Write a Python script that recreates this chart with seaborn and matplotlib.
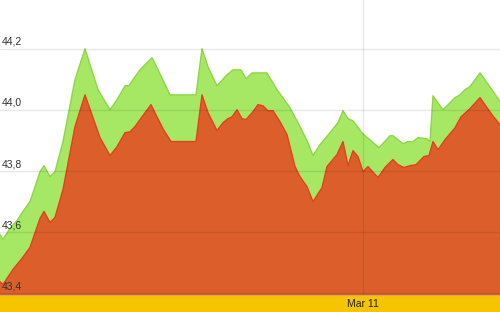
import numpy as np
import pandas as pd
import matplotlib
matplotlib.use("Agg")
import matplotlib.pyplot as plt
import seaborn as sns

# ---- data ----
upper_t = [0, 3, 10, 17, 23, 30, 40, 44, 50, 55, 63, 75, 85, 98, 110, 117, 125, 129, 133, 140,
           152, 160, 170, 196, 202, 208, 217, 227, 233, 241, 246, 252, 267, 277, 290, 300, 308, 313,
           320, 330, 338, 343, 348, 353, 362, 365, 379, 390, 393, 403, 408, 413, 418, 427, 430, 433,
           443, 455, 460, 465, 470, 480, 492, 500]
upper_v = [43.591, 43.575, 43.611, 43.637, 43.667, 43.699, 43.797, 43.817, 43.781, 43.797, 43.896,
           44.099, 44.200, 44.066, 44.000, 44.033, 44.079, 44.079, 44.099, 44.131, 44.171, 44.118,
           44.049, 44.049, 44.200, 44.141, 44.079, 44.115, 44.131, 44.131, 44.102, 44.121, 44.121,
           44.066, 44.007, 43.945, 43.892, 43.850, 43.886, 43.925, 43.958, 43.997, 43.971, 43.964,
           43.925, 43.915, 43.876, 43.915, 43.915, 43.889, 43.896, 43.896, 43.909, 43.905, 43.896,
           44.046, 44.000, 44.040, 44.049, 44.066, 44.076, 44.121, 44.066, 44.027]

lower_t = [0, 3, 13, 22, 30, 40, 44, 50, 55, 63, 75, 85, 100, 110, 117, 125, 130, 135, 142, 151,
           157, 163, 171, 196, 202, 208, 217, 223, 228, 232, 237, 242, 246, 253, 258, 263, 268, 273,
           280, 287, 295, 300, 307, 313, 322, 327, 337, 343, 348, 353, 358, 363, 368, 378, 385, 393,
           398, 404, 410, 416, 424, 429, 433, 438, 445, 455, 461, 470, 480, 492, 500]
lower_v = [43.437, 43.428, 43.477, 43.513, 43.549, 43.644, 43.667, 43.631, 43.647, 43.739, 43.945,
           44.049, 43.909, 43.850, 43.879, 43.925, 43.928, 43.945, 43.977, 44.017, 43.977, 43.938,
           43.896, 43.896, 44.049, 43.991, 43.932, 43.958, 43.971, 43.977, 44.000, 43.971, 43.968,
           43.994, 44.017, 44.013, 43.997, 43.997, 43.961, 43.919, 43.814, 43.781, 43.748, 43.699,
           43.745, 43.814, 43.853, 43.896, 43.817, 43.866, 43.847, 43.797, 43.814, 43.778, 43.811,
           43.837, 43.820, 43.811, 43.817, 43.820, 43.847, 43.850, 43.896, 43.869, 43.902, 43.941,
           43.977, 44.004, 44.040, 43.984, 43.951]

y_ticks = [43.4, 43.6, 43.8, 44.0, 44.2]
y_tick_labels = ["43,4", "43,6", "43,8", "44,0", "44,2"]
x_ticks = [363]
x_tick_labels = ["Mar 11"]

# ---- style ----
sns.set_theme(style="white")
plt.rcParams["font.family"] = ["Liberation Sans", "DejaVu Sans"]

GREEN_FILL = "#a6e864"
GREEN_LINE = "#8fd548"
ORANGE_FILL = "#dc5f2b"
ORANGE_LINE = "#e2411c"
YELLOW = "#f6c400"

fig = plt.figure(figsize=(5.0, 3.12), dpi=100, facecolor=YELLOW)
ax = fig.add_axes([0, 17 / 312, 1, 295 / 312])
ax.set_facecolor("white")

y_bottom, y_top = 43.393, 44.36
ax.set_xlim(0, 500)
ax.set_ylim(y_bottom, y_top)

up = pd.DataFrame({"t": upper_t, "v": upper_v})
lo = pd.DataFrame({"t": lower_t, "v": lower_v})

ax.fill_between(up["t"], y_bottom, up["v"], color=GREEN_FILL, lw=0, zorder=1)
sns.lineplot(data=up, x="t", y="v", ax=ax, color=GREEN_LINE, lw=1.0, zorder=2)
ax.fill_between(lo["t"], y_bottom, lo["v"], color=ORANGE_FILL, lw=0, zorder=3)
sns.lineplot(data=lo, x="t", y="v", ax=ax, color=ORANGE_LINE, lw=1.0, zorder=4)

# grid lines (drawn faintly over the areas)
for yv in y_ticks:
    ax.axhline(yv, color=(0, 0, 0, 0.09), lw=1.0, zorder=5)
for xv in x_ticks:
    ax.axvline(xv, color=(0, 0, 0, 0.09), lw=1.0, zorder=5)

# y labels inside the plot
for yv, lab in zip(y_ticks, y_tick_labels):
    ax.text(2, yv + 0.006, lab, transform=ax.transData, ha="left", va="bottom",
            fontsize=7.5, color="#333333", zorder=6)

ax.set_yticks([])
ax.set_xticks(x_ticks)
ax.set_xticklabels(x_tick_labels, fontsize=7.5, color="#222222")
ax.tick_params(axis="x", length=0, pad=3)
ax.set_xlabel("")
ax.set_ylabel("")
for s in ["top", "left", "right"]:
    ax.spines[s].set_visible(False)
ax.spines["bottom"].set_color("#d8a860")
ax.spines["bottom"].set_linewidth(0.8)

fig.savefig("out.png", dpi=100, facecolor=YELLOW)
